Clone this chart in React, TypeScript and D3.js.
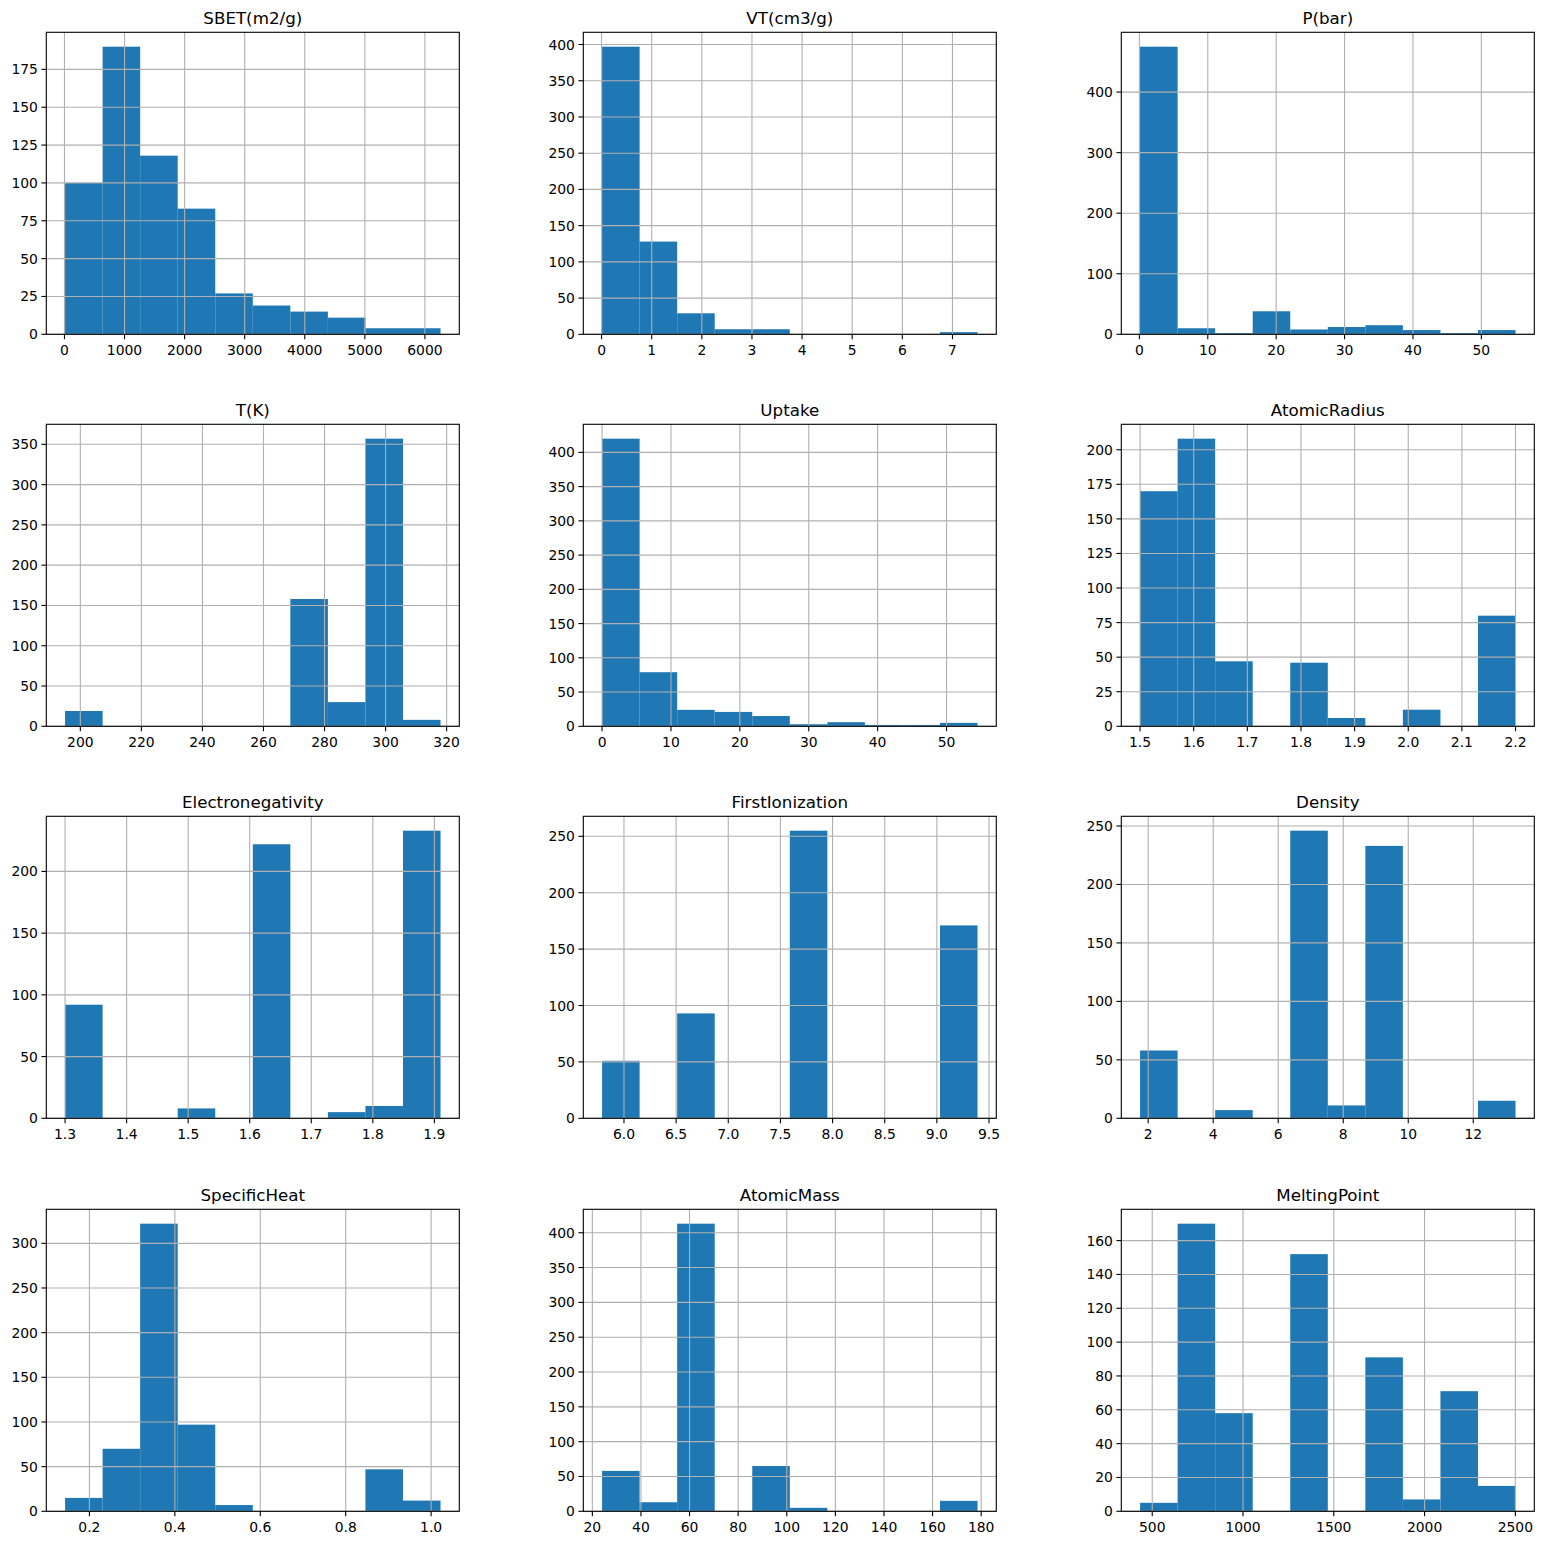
import React from 'react';
import * as d3 from 'd3';

// ---- data (10 equal-width bins per column, range = [min, max] of data) ----
const titles = [
  'SBET(m2/g)', 'VT(cm3/g)', 'P(bar)',
  'T(K)', 'Uptake', 'AtomicRadius',
  'Electronegativity', 'FirstIonization', 'Density',
  'SpecificHeat', 'AtomicMass', 'MeltingPoint',
];

const sbetRange = [10, 6260];
const sbetCounts = [100, 190, 118, 83, 27, 19, 15, 11, 4, 4];
const sbetXTicks = ['0', '1000', '2000', '3000', '4000', '5000', '6000'];
const sbetYTicks = ['0', '25', '50', '75', '100', '125', '150', '175'];

const vtRange = [0.01, 7.5];
const vtCounts = [397, 128, 29, 7, 7, 0, 0, 0, 0, 3];
const vtXTicks = ['0', '1', '2', '3', '4', '5', '6', '7'];
const vtYTicks = ['0', '50', '100', '150', '200', '250', '300', '350', '400'];

const pRange = [0.1, 55];
const pCounts = [475, 10, 2, 38, 8, 12, 15, 7, 2, 7];
const pXTicks = ['0', '10', '20', '30', '40', '50'];
const pYTicks = ['0', '100', '200', '300', '400'];

const tRange = [195, 318];
const tCounts = [19, 0, 0, 0, 0, 0, 158, 30, 357, 8];
const tXTicks = ['200', '220', '240', '260', '280', '300', '320'];
const tYTicks = ['0', '50', '100', '150', '200', '250', '300', '350'];

const uptakeRange = [0, 54.5];
const uptakeCounts = [420, 79, 24, 21, 15, 3, 6, 2, 2, 5];
const uptakeXTicks = ['0', '10', '20', '30', '40', '50'];
const uptakeYTicks = ['0', '50', '100', '150', '200', '250', '300', '350', '400'];

const radiusRange = [1.5, 2.2];
const radiusCounts = [170, 208, 47, 0, 46, 6, 0, 12, 0, 80];
const radiusXTicks = ['1.5', '1.6', '1.7', '1.8', '1.9', '2.0', '2.1', '2.2'];
const radiusYTicks = ['0', '25', '50', '75', '100', '125', '150', '175', '200'];

const enRange = [1.3, 1.91];
const enCounts = [92, 0, 0, 8, 0, 222, 0, 5, 10, 233];
const enXTicks = ['1.3', '1.4', '1.5', '1.6', '1.7', '1.8', '1.9'];
const enYTicks = ['0', '50', '100', '150', '200'];

const ionRange = [5.79, 9.39];
const ionCounts = [51, 0, 93, 0, 0, 255, 0, 0, 0, 171];
const ionXTicks = ['6.0', '6.5', '7.0', '7.5', '8.0', '8.5', '9.0', '9.5'];
const ionYTicks = ['0', '50', '100', '150', '200', '250'];

const densityRange = [1.75, 13.3];
const densityCounts = [58, 0, 7, 0, 246, 11, 233, 0, 0, 15];
const densityXTicks = ['2', '4', '6', '8', '10', '12'];
const densityYTicks = ['0', '50', '100', '150', '200', '250'];

const heatRange = [0.143, 1.022];
const heatCounts = [15, 70, 322, 97, 7, 0, 0, 0, 47, 12];
const heatXTicks = ['0.2', '0.4', '0.6', '0.8', '1.0'];
const heatYTicks = ['0', '50', '100', '150', '200', '250', '300'];

const massRange = [24, 178.5];
const massCounts = [58, 13, 413, 0, 65, 5, 0, 0, 0, 15];
const massXTicks = ['20', '40', '60', '80', '100', '120', '140', '160', '180'];
const massYTicks = ['0', '50', '100', '150', '200', '250', '300', '350', '400'];

const meltRange = [433, 2501];
const meltCounts = [5, 170, 58, 0, 152, 0, 91, 7, 71, 15];
const meltXTicks = ['500', '1000', '1500', '2000', '2500'];
const meltYTicks = ['0', '20', '40', '60', '80', '100', '120', '140', '160'];

const panels = [
  { range: sbetRange, counts: sbetCounts, xt: sbetXTicks, yt: sbetYTicks },
  { range: vtRange, counts: vtCounts, xt: vtXTicks, yt: vtYTicks },
  { range: pRange, counts: pCounts, xt: pXTicks, yt: pYTicks },
  { range: tRange, counts: tCounts, xt: tXTicks, yt: tYTicks },
  { range: uptakeRange, counts: uptakeCounts, xt: uptakeXTicks, yt: uptakeYTicks },
  { range: radiusRange, counts: radiusCounts, xt: radiusXTicks, yt: radiusYTicks },
  { range: enRange, counts: enCounts, xt: enXTicks, yt: enYTicks },
  { range: ionRange, counts: ionCounts, xt: ionXTicks, yt: ionYTicks },
  { range: densityRange, counts: densityCounts, xt: densityXTicks, yt: densityYTicks },
  { range: heatRange, counts: heatCounts, xt: heatXTicks, yt: heatYTicks },
  { range: massRange, counts: massCounts, xt: massXTicks, yt: massYTicks },
  { range: meltRange, counts: meltCounts, xt: meltXTicks, yt: meltYTicks },
].map((p, i) => ({ ...p, title: titles[i] }));

// ---- layout ----
const FIG = 1544;
const AX_W = 413;
const AX_H = 302;
const COL_X = [46.3, 583.3, 1121.3];
const ROW_Y = [32.3, 424.3, 816.3, 1209.3];
const BAR = '#1f77b4';
const GRID = '#b0b0b0';
const FONT = 'DejaVu Sans, Verdana, sans-serif';

function Histogram({ p, left, top }: any) {
  const [lo, hi] = p.range;
  const span = hi - lo;
  const x = d3.scaleLinear().domain([lo - 0.05 * span, hi + 0.05 * span]).range([left, left + AX_W]);
  const maxC = d3.max(p.counts as number[]) as number;
  const y = d3.scaleLinear().domain([0, maxC * 1.05]).range([top + AX_H, top]);
  const edges = d3.range(p.counts.length + 1).map((i) => lo + (i * span) / p.counts.length);
  const bottom = top + AX_H;
  const xd = x.domain();
  const yd = y.domain();
  const xt = (p.xt as string[]).filter((t) => +t >= xd[0] && +t <= xd[1]);
  const yt = (p.yt as string[]).filter((t) => +t >= yd[0] && +t <= yd[1]);
  return (
    <g>
      {p.counts.map((c: number, i: number) =>
        c > 0 ? (
          <rect
            key={'b' + i}
            x={x(edges[i])}
            width={x(edges[i + 1]) - x(edges[i])}
            y={y(c)}
            height={y(0) - y(c)}
            fill={BAR}
          />
        ) : null
      )}
      {xt.map((t) => (
        <line key={'gx' + t} x1={x(+t)} x2={x(+t)} y1={top} y2={bottom} stroke={GRID} strokeWidth={1.1} />
      ))}
      {yt.map((t) => (
        <line key={'gy' + t} x1={left} x2={left + AX_W} y1={y(+t)} y2={y(+t)} stroke={GRID} strokeWidth={1.1} />
      ))}
      <rect x={left} y={top} width={AX_W} height={AX_H} fill="none" stroke="#000" strokeWidth={1.1} />
      {xt.map((t) => (
        <g key={'tx' + t}>
          <line x1={x(+t)} x2={x(+t)} y1={bottom} y2={bottom + 4.9} stroke="#000" strokeWidth={1.1} />
          <text x={x(+t)} y={bottom + 20.5} textAnchor="middle" fontSize={13.9} fontFamily={FONT} fill="#000">
            {t}
          </text>
        </g>
      ))}
      {yt.map((t) => (
        <g key={'ty' + t}>
          <line x1={left - 4.9} x2={left} y1={y(+t)} y2={y(+t)} stroke="#000" strokeWidth={1.1} />
          <text x={left - 8.4} y={y(+t)} dy="0.36em" textAnchor="end" fontSize={13.9} fontFamily={FONT} fill="#000">
            {t}
          </text>
        </g>
      ))}
      <text x={left + AX_W / 2} y={top - 8.3} textAnchor="middle" fontSize={16.7} fontFamily={FONT} fill="#000">
        {p.title}
      </text>
    </g>
  );
}

export default function App() {
  return (
    <svg
      width={FIG}
      height={FIG}
      viewBox={`0 0 ${FIG} ${FIG}`}
      style={{ position: 'absolute', left: 0, top: 0, display: 'block', background: '#fff' }}
    >
      <rect width={FIG} height={FIG} fill="#fff" />
      {panels.map((p, i) => (
        <Histogram key={p.title} p={p} left={COL_X[i % 3]} top={ROW_Y[Math.floor(i / 3)]} />
      ))}
    </svg>
  );
}
